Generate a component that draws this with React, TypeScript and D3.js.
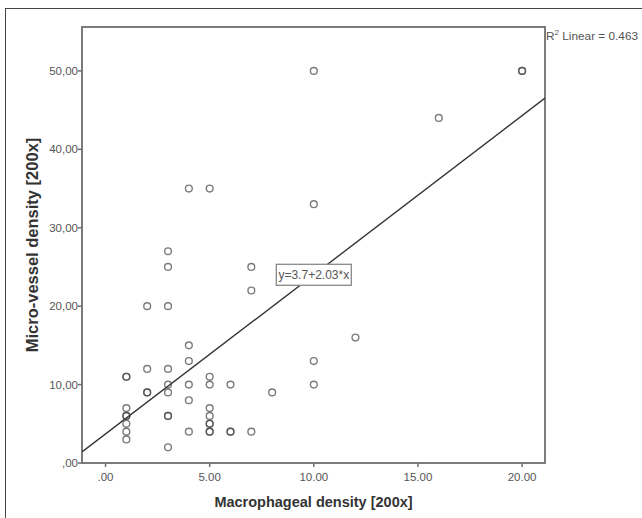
import React from "react";
import * as d3 from "d3";

// macrophageal density (x) and micro-vessel density (y), one entry per case
const xValues = [
  1, 1, 1, 1, 1, 1, 1, 1,
  2, 2, 2, 2,
  3, 3, 3, 3, 3, 3, 3, 3, 3,
  4, 4, 4, 4, 4, 4,
  5, 5, 5, 5, 5, 5, 5, 5, 5,
  6, 6, 6,
  7, 7, 7,
  8,
  10, 10, 10, 10,
  12,
  16,
  20, 20,
];
const yValues = [
  11, 11, 7, 6, 6, 5, 4, 3,
  20, 12, 9, 9,
  27, 25, 20, 12, 10, 9, 6, 6, 2,
  35, 15, 13, 10, 8, 4,
  35, 11, 10, 7, 6, 5, 5, 4, 4,
  10, 4, 4,
  25, 22, 4,
  9,
  50, 33, 13, 10,
  16,
  44,
  50, 50,
];

const xTicks = [0, 5, 10, 15, 20];
const xTickLabels = [".00", "5.00", "10.00", "15.00", "20.00"];
const yTicks = [0, 10, 20, 30, 40, 50];
const yTickLabels = [",00", "10,00", "20,00", "30,00", "40,00", "50,00"];

const intercept = 3.7;
const slope = 2.03;
const rSquared = "0.463";

const W = 642;
const H = 518;
const left = 82, right = 545, top = 27, bottom = 463;

const App = () => {
  const x = d3.scaleLinear().domain([-1.13, 21.1]).range([left, right]);
  const y = d3.scaleLinear().domain([0, 55.6]).range([bottom, top]);

  const fit = (v: number) => intercept + slope * v;
  const [x0, x1] = x.domain();
  const line = d3.line<number>().x(d => x(d)).y(d => y(fit(d)))([x0, x1]);

  const boxX = x(10);
  const boxY = y(fit(10));

  const font = "'Liberation Sans', Arial, sans-serif";

  return (
    <svg width={W} height={H} style={{ position: "absolute", left: 0, top: 0, background: "#fff" }}
      fontFamily={font}>
      {/* outer frame */}
      <rect x={5.5} y={8.5} width={W + 10} height={H + 10} fill="none" stroke="#444" strokeWidth={1} />

      {/* plot frame */}
      <rect x={left} y={top} width={right - left} height={bottom - top} fill="#fff" stroke="#6e6e6e" strokeWidth={1.8} />

      {/* y axis */}
      {yTicks.map((t, i) => (
        <g key={"y" + t}>
          <line x1={left - 4} x2={left} y1={y(t)} y2={y(t)} stroke="#6e6e6e" strokeWidth={1.5} />
          <text x={left - 4} y={y(t)} dy="0.35em" textAnchor="end" fontSize={11.5} fill="#555">{yTickLabels[i]}</text>
        </g>
      ))}
      {/* x axis */}
      {xTicks.map((t, i) => (
        <g key={"x" + t}>
          <line x1={x(t)} x2={x(t)} y1={bottom} y2={bottom + 4} stroke="#6e6e6e" strokeWidth={1.5} />
          <text x={x(t)} y={481} textAnchor="middle" fontSize={11.5} fill="#555">{xTickLabels[i]}</text>
        </g>
      ))}

      <text x={(left + right) / 2} y={507} textAnchor="middle" fontSize={14.5} fontWeight="bold" fill="#333">
        Macrophageal density [200x]
      </text>
      <text transform={`translate(38,${(top + bottom) / 2}) rotate(-90)`} textAnchor="middle" fontSize={16.5}
        fontWeight="bold" fill="#333">
        Micro-vessel density [200x]
      </text>

      <defs>
        <clipPath id="plotClip">
          <rect x={left} y={top} width={right - left} height={bottom - top} />
        </clipPath>
      </defs>

      {/* fit line */}
      <path d={line || ""} fill="none" stroke="#333" strokeWidth={1.4} clipPath="url(#plotClip)" />

      {/* points */}
      {xValues.map((v, i) => (
        <circle key={i} cx={x(v)} cy={y(yValues[i])} r={3.4} fill="none" stroke="#444"
          strokeOpacity={0.7} strokeWidth={1.4} />
      ))}

      {/* equation label */}
      <rect x={boxX - 37.5} y={boxY - 10.5} width={75} height={21} fill="#fff" stroke="#888" strokeWidth={1.3} />
      <text x={boxX} y={boxY} dy="0.35em" textAnchor="middle" fontSize={12} fill="#555">
        y=3.7+2.03*x
      </text>

      {/* R squared */}
      <text x={546} y={40} fontSize={11.8} fill="#555">
        R<tspan fontSize={8} dy={-5}>2</tspan><tspan dy={5}>{` Linear = ${rSquared}`}</tspan>
      </text>
    </svg>
  );
};

export default App;
